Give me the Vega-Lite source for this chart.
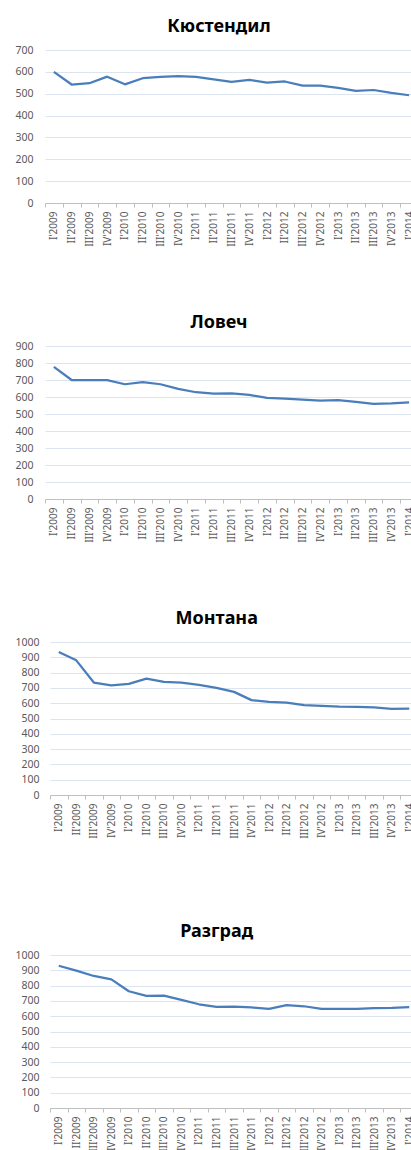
{
  "$schema": "https://vega.github.io/schema/vega-lite/v6.json",
  "padding": {"left": 14, "top": 18, "right": 0, "bottom": 0},
  "datasets": {
    "k": [
      {"q": "I'2009", "v": 600}, {"q": "II'2009", "v": 542}, {"q": "III'2009", "v": 548}, {"q": "IV'2009", "v": 578},
      {"q": "I'2010", "v": 543}, {"q": "II'2010", "v": 571}, {"q": "III'2010", "v": 577}, {"q": "IV'2010", "v": 580},
      {"q": "I'2011", "v": 577}, {"q": "II'2011", "v": 566}, {"q": "III'2011", "v": 554}, {"q": "IV'2011", "v": 563},
      {"q": "I'2012", "v": 551}, {"q": "II'2012", "v": 556}, {"q": "III'2012", "v": 537}, {"q": "IV'2012", "v": 537},
      {"q": "I'2013", "v": 527}, {"q": "II'2013", "v": 513}, {"q": "III'2013", "v": 517}, {"q": "IV'2013", "v": 504},
      {"q": "I'2014", "v": 493}
    ],
    "l": [
      {"q": "I'2009", "v": 777}, {"q": "II'2009", "v": 700}, {"q": "III'2009", "v": 700}, {"q": "IV'2009", "v": 699},
      {"q": "I'2010", "v": 675}, {"q": "II'2010", "v": 687}, {"q": "III'2010", "v": 675}, {"q": "IV'2010", "v": 648},
      {"q": "I'2011", "v": 628}, {"q": "II'2011", "v": 620}, {"q": "III'2011", "v": 622}, {"q": "IV'2011", "v": 612},
      {"q": "I'2012", "v": 595}, {"q": "II'2012", "v": 591}, {"q": "III'2012", "v": 585}, {"q": "IV'2012", "v": 579},
      {"q": "I'2013", "v": 581}, {"q": "II'2013", "v": 571}, {"q": "III'2013", "v": 560}, {"q": "IV'2013", "v": 563},
      {"q": "I'2014", "v": 569}
    ],
    "m": [
      {"q": "I'2009", "v": 935}, {"q": "II'2009", "v": 880}, {"q": "III'2009", "v": 735}, {"q": "IV'2009", "v": 717},
      {"q": "I'2010", "v": 726}, {"q": "II'2010", "v": 761}, {"q": "III'2010", "v": 739}, {"q": "IV'2010", "v": 735},
      {"q": "I'2011", "v": 720}, {"q": "II'2011", "v": 700}, {"q": "III'2011", "v": 674}, {"q": "IV'2011", "v": 620},
      {"q": "I'2012", "v": 609}, {"q": "II'2012", "v": 604}, {"q": "III'2012", "v": 587}, {"q": "IV'2012", "v": 583},
      {"q": "I'2013", "v": 578}, {"q": "II'2013", "v": 576}, {"q": "III'2013", "v": 572}, {"q": "IV'2013", "v": 563},
      {"q": "I'2014", "v": 565}
    ],
    "r": [
      {"q": "I'2009", "v": 930}, {"q": "II'2009", "v": 898}, {"q": "III'2009", "v": 863}, {"q": "IV'2009", "v": 841},
      {"q": "I'2010", "v": 763}, {"q": "II'2010", "v": 733}, {"q": "III'2010", "v": 735}, {"q": "IV'2010", "v": 707},
      {"q": "I'2011", "v": 678}, {"q": "II'2011", "v": 661}, {"q": "III'2011", "v": 663}, {"q": "IV'2011", "v": 657},
      {"q": "I'2012", "v": 648}, {"q": "II'2012", "v": 672}, {"q": "III'2012", "v": 665}, {"q": "IV'2012", "v": 648},
      {"q": "I'2013", "v": 648}, {"q": "II'2013", "v": 648}, {"q": "III'2013", "v": 652}, {"q": "IV'2013", "v": 654},
      {"q": "I'2014", "v": 659}
    ]
  },
  "config": {
    "view": {"stroke": null},
    "font": "Noto Sans",
    "title": {"fontSize": 18, "fontWeight": "bold", "color": "#000000", "offset": 9, "anchor": "middle", "frame": "bounds", "font": "Noto Sans"},
    "axisX": {"labelAngle": 270, "labelFontSize": 10, "labelFont": "Noto Sans", "labelColor": "#595959", "labelPadding": 4, "tickSize": 4, "tickColor": "#BFBFBF", "domainColor": "#BFBFBF", "tickBand": "extent", "grid": false, "title": null, "labelOverlap": false},
    "axisY": {"labelFontSize": 10.5, "labelFont": "Noto Sans", "labelColor": "#595959", "labelPadding": 11, "ticks": false, "domain": false, "gridColor": "#DCE4F0", "gridWidth": 1, "title": null, "format": "d"},
    "line": {"color": "#4A7EBB", "strokeWidth": 2.25, "strokeJoin": "round"}
  },
  "spacing": 67,
  "vconcat": [
    {
      "spacing": 67,
      "vconcat": [
        {
          "title": "Кюстендил",
          "data": {"name": "k"},
          "width": 368, "height": 153,
          "mark": "line",
          "encoding": {
            "x": {"field": "q", "type": "ordinal", "sort": null, "scale": {"type": "band", "paddingInner": 0, "paddingOuter": 0, "range": [-5, 368]}},
            "y": {"field": "v", "type": "quantitative", "scale": {"domain": [0, 700]}, "axis": {"values": [0, 100, 200, 300, 400, 500, 600, 700], "labelPadding": 17}}
          }
        },
        {
          "title": "Ловеч",
          "data": {"name": "l"},
          "width": 368, "height": 153,
          "mark": "line",
          "encoding": {
            "x": {"field": "q", "type": "ordinal", "sort": null, "scale": {"type": "band", "paddingInner": 0, "paddingOuter": 0, "range": [-5, 368]}},
            "y": {"field": "v", "type": "quantitative", "scale": {"domain": [0, 900]}, "axis": {"values": [0, 100, 200, 300, 400, 500, 600, 700, 800, 900], "labelPadding": 17}}
          }
        }
      ]
    },
    {
      "spacing": 84,
      "vconcat": [
        {
          "title": "Монтана",
          "data": {"name": "m"},
          "width": 368, "height": 153,
          "mark": "line",
          "encoding": {
            "x": {"field": "q", "type": "ordinal", "sort": null, "scale": {"type": "band", "paddingInner": 0, "paddingOuter": 0}},
            "y": {"field": "v", "type": "quantitative", "scale": {"domain": [0, 1000]}, "axis": {"values": [0, 100, 200, 300, 400, 500, 600, 700, 800, 900, 1000]}}
          }
        },
        {
          "title": "Разград",
          "data": {"name": "r"},
          "width": 368, "height": 153,
          "mark": "line",
          "encoding": {
            "x": {"field": "q", "type": "ordinal", "sort": null, "scale": {"type": "band", "paddingInner": 0, "paddingOuter": 0}},
            "y": {"field": "v", "type": "quantitative", "scale": {"domain": [0, 1000]}, "axis": {"values": [0, 100, 200, 300, 400, 500, 600, 700, 800, 900, 1000]}}
          }
        }
      ]
    }
  ]
}
